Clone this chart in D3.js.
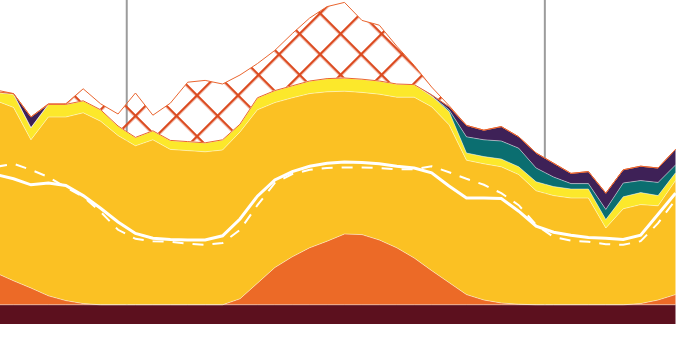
<!DOCTYPE html>
<html>
<head>
<meta charset="utf-8">
<script src="https://cdn.jsdelivr.net/npm/d3@7"></script>
<style>
  body { margin: 0; background: #fff; }
  svg { display: block; }
</style>
</head>
<body>
<svg id="chart" width="676" height="344"></svg>
<script>
// hours since start of day 1 (half past each hour), midnights drawn as rules
const hours = [16.5, 17.5, 18.5, 19.5, 20.5, 21.5, 22.5, 23.5, 24.5, 25.5,
               26.5, 27.5, 28.5, 29.5, 30.5, 31.5, 32.5, 33.5, 34.5, 35.5,
               36.5, 37.5, 38.5, 39.5, 40.5, 41.5, 42.5, 43.5, 44.5, 45.5,
               46.5, 47.5, 48.5, 49.5, 50.5, 51.5, 52.5, 53.5, 54.5, 55.5];
const midnights = [24, 48];

// stacked generation, bottom to top
const nuclear = [3.2, 3.2, 3.2, 3.2, 3.2, 3.2, 3.2, 3.2, 3.2, 3.2,
                 3.2, 3.2, 3.2, 3.2, 3.2, 3.2, 3.2, 3.2, 3.2, 3.2,
                 3.2, 3.2, 3.2, 3.2, 3.2, 3.2, 3.2, 3.2, 3.2, 3.2,
                 3.2, 3.2, 3.2, 3.2, 3.2, 3.2, 3.2, 3.2, 3.2, 3.2];
const solar = [5.3, 4.0, 2.8, 1.5, 0.7, 0.2, 0, 0, 0, 0,
               0, 0, 0, 0, 1.0, 3.6, 6.2, 8.0, 9.5, 10.6,
               11.8, 11.7, 10.8, 9.5, 7.8, 5.7, 3.7, 1.7, 0.8, 0.3,
               0.1, 0, 0, 0, 0, 0, 0, 0.2, 0.8, 1.7];
const gas = [28.7, 28.9, 24.7, 29.8, 30.6, 31.8, 30.6, 28.2, 26.5, 27.5,
             25.9, 25.7, 25.5, 25.8, 27.8, 28.9, 27.5, 26.5, 25.7, 24.9,
             23.8, 23.7, 24.3, 25.1, 26.8, 27.3, 26.3, 22.4, 22.7, 22.7,
             21.6, 19.0, 18.2, 17.8, 17.8, 12.8, 16.0, 16.5, 15.7, 19.0];
const hydro = [1.4, 2.2, 2.0, 2.1, 2.1, 2.0, 1.9, 1.6, 1.4, 1.5,
               1.5, 1.5, 1.5, 1.7, 1.3, 2.0, 2.0, 2.0, 2.1, 2.2,
               2.2, 2.2, 2.2, 2.2, 2.1, 1.8, 2.2, 1.2, 1.2, 1.3,
               1.3, 1.5, 1.5, 1.5, 1.5, 1.4, 2.0, 2.0, 1.7, 1.3];
const storage = [0, 0, 0, 0, 0, 0, 0, 0, 0, 0,
                 0, 0, 0, 0, 0, 0, 0, 0, 0, 0,
                 0, 0, 0, 0, 0, 0, 0.3, 2.7, 2.8, 3.0,
                 3.1, 2.3, 1.6, 0.9, 0.9, 1.7, 2.3, 2.0, 2.2, 1.3];
const coal = [0.1, 0.1, 1.8, 0, 0, 0, 0, 0, 0, 0,
              0, 0, 0, 0, 0, 0, 0, 0, 0, 0,
              0, 0, 0, 0, 0, 0.2, 0.5, 1.9, 1.6, 2.4,
              1.9, 2.5, 2.3, 1.7, 2.0, 2.7, 2.2, 2.4, 2.4, 2.6];
const imports = [0.3, 0, 0, 0.1, 0.1, 2.0, 1.0, 2.0, 7.4, 2.6,
                 6.2, 9.9, 10.4, 9.3, 8.2, 5.7, 6.7, 8.7, 10.5, 12.0,
                 12.6, 9.8, 9.3, 6.3, 3.2, 1.3, 0.2, 0, 0, 0,
                 0, 0, 0, 0, 0, 0, 0, 0, 0, 0];

// demand lines
const demand = [24.9, 24.2, 23.2, 23.5, 23.1, 21.4, 19.3, 17.0, 15.1, 14.3,
                14.1, 14.0, 14.0, 14.7, 17.5, 21.3, 24.0, 25.4, 26.3, 26.8,
                27.0, 26.9, 26.7, 26.3, 26.0, 25.2, 23.0, 21.0, 21.0, 20.9,
                18.8, 16.3, 15.3, 14.8, 14.4, 14.3, 14.1, 14.8, 18.3, 21.8];
const forecast = [26.2, 26.7, 25.7, 24.5, 22.8, 21.2, 18.7, 15.7, 14.2, 13.8,
                  13.7, 13.4, 13.2, 13.5, 15.7, 19.8, 23.5, 25.0, 25.7, 26.0,
                  26.1, 26.1, 26.0, 25.8, 25.8, 26.3, 25.3, 24.2, 23.2, 21.8,
                  19.8, 16.5, 14.5, 13.9, 13.7, 13.3, 13.2, 13.8, 16.8, 20.7];

const keys = ['nuclear', 'solar', 'gas', 'hydro', 'storage', 'coal', 'imports'];
const fills = {
  nuclear: '#5c101e',
  solar: '#ec6a27',
  gas: '#fbc123',
  hydro: '#fce82b',
  storage: '#0b6e70',
  coal: '#3e2157',
  imports: 'url(#hatch)'
};

const rows = hours.map((h, i) => ({
  hour: h, nuclear: nuclear[i], solar: solar[i], gas: gas[i], hydro: hydro[i],
  storage: storage[i], coal: coal[i], imports: imports[i],
  demand: demand[i], forecast: forecast[i]
}));

const x = d3.scaleLinear().domain([16.5, 55.5]).range([-3.9, 675.5]);
const y = d3.scaleLinear().domain([0, 54]).range([324, 0]);

const series = d3.stack().keys(keys)(rows);

const svg = d3.select('#chart');

// cross hatch for imports
let pat = svg.append('defs').append('pattern')
    .attr('id', 'hatch')
    .attr('patternUnits', 'userSpaceOnUse')
    .attr('width', 29).attr('height', 29)
    .attr('patternTransform', 'translate(-8,11.7) rotate(45)');
pat.append('rect').attr('x', 0).attr('y', 0).attr('width', 29).attr('height', 2.4).attr('fill', '#db4a1f');
pat.append('rect').attr('x', 0).attr('y', 0).attr('width', 2.4).attr('height', 29).attr('fill', '#db4a1f');

// midnight rules, behind the areas
svg.append('g')
    .selectAll('line')
    .data(midnights)
    .join('line')
    .attr('x1', d => x(d)).attr('x2', d => x(d))
    .attr('y1', 0).attr('y2', y(0))
    .attr('stroke', '#9c9c9c')
    .attr('stroke-width', 2);

let area = d3.area()
    .x(d => x(d.data.hour))
    .y0(d => y(d[0]))
    .y1(d => y(d[1]));

let edge = d3.line()
    .x(d => x(d.data.hour))
    .y(d => y(d[1]));

svg.append('g')
    .selectAll('path')
    .data(series)
    .join('path')
    .attr('d', area)
    .attr('fill', d => fills[d.key]);

// pale seams between the solid layers
svg.append('g')
    .selectAll('path')
    .data(series.slice(0, -1))
    .join('path')
    .attr('d', edge)
    .attr('fill', 'none')
    .attr('stroke', 'rgba(255,255,255,0.45)')
    .attr('stroke-width', 1);

// outline of the hatched layer
svg.append('path')
    .datum(series[series.length - 1])
    .attr('d', area)
    .attr('fill', 'none')
    .attr('stroke', '#ea6630')
    .attr('stroke-width', 1);

let line = key => d3.line()
    .x(d => x(d.hour))
    .y(d => y(d[key]));

svg.append('path')
    .datum(rows)
    .attr('d', line('forecast'))
    .attr('fill', 'none')
    .attr('stroke', '#fff')
    .attr('stroke-width', 2)
    .attr('stroke-dasharray', '11,9');

svg.append('path')
    .datum(rows)
    .attr('d', line('demand'))
    .attr('fill', 'none')
    .attr('stroke', '#fff')
    .attr('stroke-width', 3);
</script>
</body>
</html>
